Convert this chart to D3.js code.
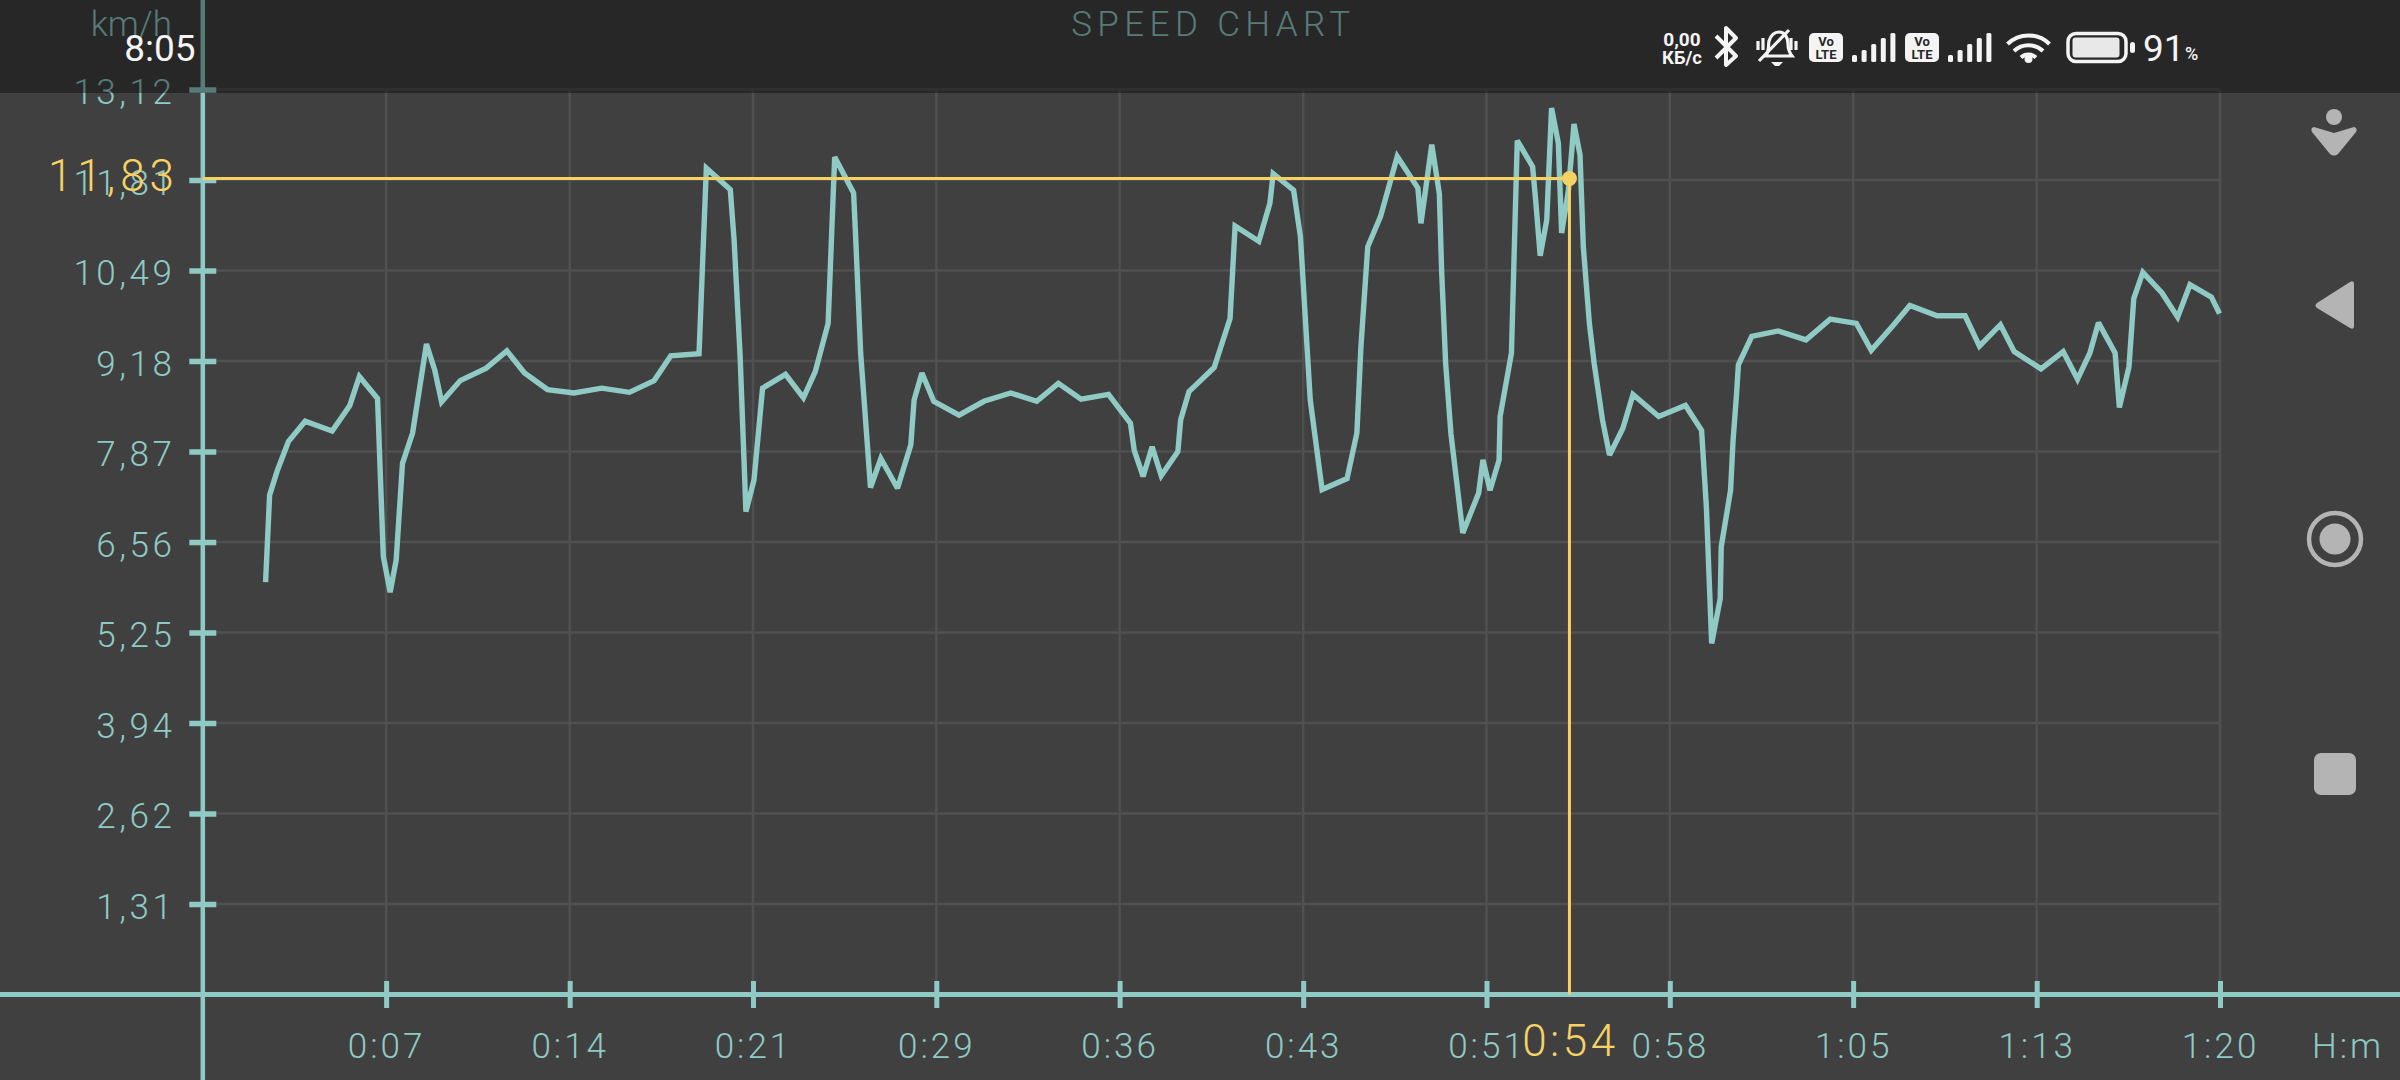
<!DOCTYPE html>
<html>
<head>
<meta charset="utf-8">
<script src="https://cdn.jsdelivr.net/npm/d3@7"></script>
<style>
html,body{margin:0;padding:0;background:#404040;overflow:hidden}
svg{display:block}
text{font-family:Roboto,"Liberation Sans",sans-serif}
</style>
</head>
<body>
<svg id="chart" width="2400" height="1080"></svg>
<script>
const chartTitle = "SPEED CHART";
const yUnit = "km/h";
const xUnit = "H:m";
const yTickValues = [1.312,2.624,3.936,5.248,6.56,7.872,9.184,10.496,11.808,13.12];
const yTickLabels = ["1,31","2,62","3,94","5,25","6,56","7,87","9,18","10,49","11,81","13,12"];
const xTickValues = [7.27,14.55,21.82,29.09,36.36,43.64,50.91,58.18,65.45,72.73,80];
const xTickLabels = ["0:07","0:14","0:21","0:29","0:36","0:43","0:51","0:58","1:05","1:13","1:20"];
const selectedMinute = 54.2;
const selectedSpeed = 11.83;
const selectedSpeedLabel = "11,83";
const selectedMinuteLabel = "0:54";

const speedMinutes = [2.49,2.65,2.96,3.40,4.06,5.13,5.83,6.21,6.93,7.16,7.43,7.67,7.92,8.32,8.87,9.20,9.47,10.21,11.24,12.06,12.76,13.67,14.72,15.82,16.92,17.90,18.56,19.68,19.97,20.92,21.07,21.31,21.54,21.86,22.20,23.11,23.82,24.29,24.80,25.06,25.81,25.89,26.09,26.48,26.89,27.55,28.08,28.21,28.52,28.99,29.99,30.98,32.04,33.07,33.93,34.83,35.92,36.79,36.94,37.29,37.65,38.01,38.67,38.78,39.11,40.11,40.74,40.94,41.88,42.32,42.45,43.26,43.53,43.92,44.39,45.38,45.77,45.93,46.20,46.71,47.37,48.19,48.31,48.74,49.04,49.13,49.29,49.50,49.97,50.60,50.77,51.05,51.41,51.45,51.90,52.13,52.74,52.87,53.04,53.30,53.49,53.76,53.89,54.16,54.38,54.62,54.75,54.99,55.18,55.51,55.79,56.32,56.72,57.74,58.80,59.44,59.63,59.84,60.18,60.22,60.59,60.69,60.82,60.90,61.43,62.48,63.58,64.54,65.58,66.17,67.06,67.70,68.78,69.89,70.46,71.29,71.84,72.90,73.78,74.35,74.84,75.18,75.84,76.01,76.39,76.58,76.94,77.70,78.32,78.81,79.66,79.98];
const speedKmh = [5.98,7.24,7.60,8.02,8.31,8.17,8.54,8.96,8.64,6.35,5.83,6.30,7.70,8.14,9.43,9.05,8.59,8.90,9.08,9.33,9.01,8.77,8.72,8.79,8.73,8.90,9.26,9.29,11.98,11.67,10.94,9.25,7.00,7.46,8.79,8.99,8.65,9.03,9.73,12.14,11.62,10.99,9.30,7.35,7.77,7.34,7.97,8.62,9.01,8.60,8.40,8.60,8.72,8.60,8.86,8.63,8.70,8.28,7.89,7.51,7.94,7.52,7.87,8.33,8.74,9.09,9.80,11.14,10.92,11.47,11.90,11.66,10.99,8.62,7.32,7.48,8.14,9.39,10.84,11.28,12.15,11.69,11.18,12.32,11.61,10.50,9.15,8.13,6.69,7.27,7.75,7.31,7.75,8.38,9.30,12.38,12.00,11.47,10.71,11.23,12.85,12.34,11.04,11.66,12.62,12.17,10.84,9.73,9.15,8.33,7.82,8.21,8.70,8.38,8.54,8.18,7.07,5.09,5.74,6.49,7.31,8.04,8.67,9.13,9.54,9.62,9.49,9.79,9.73,9.34,9.71,9.99,9.84,9.84,9.40,9.71,9.32,9.07,9.32,8.92,9.30,9.74,9.30,8.51,9.10,10.09,10.47,10.17,9.82,10.29,10.11,9.87];

const teal = "#8fcac4", gold = "#f6d265", grid = "#505050", bg = "#404040";
const svg = d3.select("#chart");
svg.append("rect").attr("width",2400).attr("height",1080).attr("fill",bg);

const x = d3.scaleLinear().domain([0,80]).range([202.8,2220]);
const y = d3.scaleLinear().domain([0,13.12]).range([994.5,89.5]);
const labelFont = "300 35px Roboto";

// grid
svg.append("g").selectAll("line").data(yTickValues).join("line")
  .attr("x1",x(0)).attr("x2",x(80)).attr("y1",d=>y(d)).attr("y2",d=>y(d))
  .attr("stroke",grid).attr("stroke-width",2.5);
svg.append("g").selectAll("line").data(xTickValues).join("line")
  .attr("x1",d=>x(d)).attr("x2",d=>x(d)).attr("y1",y(13.12)).attr("y2",y(0))
  .attr("stroke",grid).attr("stroke-width",2.5);

// axes
const yAxis = svg.append("g").attr("transform",`translate(${x(0)},0)`)
  .call(d3.axisLeft(y).tickValues(yTickValues).tickFormat((d,i)=>yTickLabels[i]));
const xAxis = svg.append("g").attr("transform",`translate(0,${y(0)})`)
  .call(d3.axisBottom(x).tickValues(xTickValues).tickFormat((d,i)=>xTickLabels[i]));
yAxis.select(".domain").remove(); xAxis.select(".domain").remove();
yAxis.selectAll(".tick line").attr("x1",-13.5).attr("x2",13.5).attr("stroke",teal).attr("stroke-width",5.5);
xAxis.selectAll(".tick line").attr("y1",-13.5).attr("y2",13.5).attr("stroke",teal).attr("stroke-width",5);
yAxis.selectAll(".tick text").attr("x",-27.5).attr("dy",null).attr("y",14).attr("text-anchor","end")
  .attr("fill",teal).style("font",labelFont).style("letter-spacing","3.5px");
xAxis.selectAll(".tick text").attr("x",0).attr("y",63).attr("dy",null).attr("text-anchor","middle")
  .attr("fill",teal).style("font",labelFont).style("letter-spacing","3px");
yAxis.attr("font-family",null).attr("font-size",null);
xAxis.attr("font-family",null).attr("font-size",null);
svg.append("line").attr("x1",x(0)).attr("x2",x(0)).attr("y1",0).attr("y2",1080).attr("stroke",teal).attr("stroke-width",4.5);
svg.append("line").attr("x1",0).attr("x2",2400).attr("y1",y(0)).attr("y2",y(0)).attr("stroke",teal).attr("stroke-width",5);

// unit labels and title
svg.append("text").attr("x",172).attr("y",36).attr("text-anchor","end").attr("fill",teal)
  .style("font",labelFont).style("letter-spacing","0px").text(yUnit);
svg.append("text").attr("x",2348).attr("y",1058).attr("text-anchor","middle").attr("fill",teal)
  .style("font",labelFont).style("letter-spacing","3px").text(xUnit);
svg.append("text").attr("x",x(40)+2).attr("y",36).attr("text-anchor","middle").attr("fill",teal)
  .style("font",labelFont).style("letter-spacing","5.4px").text(chartTitle);

// series
const points = speedMinutes.map((m,i)=>[m,speedKmh[i]]);
svg.append("path").datum(points)
  .attr("d",d3.line().x(d=>x(d[0])).y(d=>y(d[1])))
  .attr("fill","none").attr("stroke",teal).attr("stroke-width",5.4).attr("stroke-linejoin","miter").attr("stroke-miterlimit",2.5);

// selection
svg.append("line").attr("x1",x(0)).attr("x2",x(selectedMinute)).attr("y1",y(selectedSpeed)).attr("y2",y(selectedSpeed))
  .attr("stroke",gold).attr("stroke-width",3);
svg.append("line").attr("x1",x(selectedMinute)).attr("x2",x(selectedMinute)).attr("y1",y(selectedSpeed)).attr("y2",y(0))
  .attr("stroke",gold).attr("stroke-width",3);
svg.append("circle").attr("cx",x(selectedMinute)).attr("cy",y(selectedSpeed)).attr("r",7.5).attr("fill",gold);
svg.append("text").attr("x",179).attr("y",190.5).attr("text-anchor","end").attr("fill",gold)
  .style("font","300 44px Roboto").style("letter-spacing","5px").text(selectedSpeedLabel);
svg.append("text").attr("x",x(selectedMinute)+1).attr("y",1056).attr("text-anchor","middle").attr("fill",gold)
  .style("font","300 44px Roboto").style("letter-spacing","3.5px").text(selectedMinuteLabel);

// status bar (translucent over the chart)
svg.append("rect").attr("width",2400).attr("height",93).attr("fill","#000").attr("fill-opacity",0.39);
const white = "#f4f4f4";
const st = svg.append("g");
st.append("text").attr("x",195.5).attr("y",61).attr("text-anchor","end").attr("fill",white)
  .style("font","400 37px Roboto").text("8:05");
st.append("text").attr("x",1682).attr("y",46).attr("text-anchor","middle").attr("fill",white)
  .style("font","700 19px Roboto").text("0,00");
st.append("text").attr("x",1682).attr("y",64).attr("text-anchor","middle").attr("fill",white)
  .style("font","700 18px Roboto").attr("textLength",40).attr("lengthAdjust","spacingAndGlyphs").text("КБ/с");
st.append("path").attr("d","M1716,36 L1736,56 L1726,65 L1726,28 L1736,38 L1716,58")
  .attr("fill","none").attr("stroke",white).attr("stroke-width",4).attr("stroke-linejoin","round");
// muted bell
st.append("path").attr("d","M1765,56 C1770,52 1768,44 1769,41 C1771,35 1775,32 1779,32 C1785,32 1788,38 1788,44 C1788,49 1789,52 1792,56 Z")
  .attr("fill","none").attr("stroke",white).attr("stroke-width",3.2);
st.append("path").attr("d","M1758,41 V50 M1763,38 V50 M1791,38 V50 M1796,41 V50 M1789,30 L1759,61")
  .attr("fill","none").attr("stroke",white).attr("stroke-width",3.2);
st.append("path").attr("d","M1771,62 H1783 L1779,66 H1775 Z").attr("fill",white);
// volte + signal, twice
[[1809,1852],[1905,1948]].forEach(([bx,sx])=>{
  st.append("rect").attr("x",bx).attr("y",33).attr("width",34).attr("height",29).attr("rx",5).attr("fill",white);
  st.append("text").attr("x",bx+17).attr("y",46).attr("text-anchor","middle").attr("fill","#282828").style("font","700 13px Roboto").text("Vo");
  st.append("text").attr("x",bx+17).attr("y",59).attr("text-anchor","middle").attr("fill","#282828").style("font","700 13px Roboto").text("LTE");
  [55,50,44,38,33].forEach((top,i)=>{
    st.append("rect").attr("x",sx+i*9.6).attr("y",top).attr("width",5).attr("height",62-top).attr("rx",1.5).attr("fill",white);
  });
});
// wifi
st.append("path").attr("d","M2007.5,44 A30,30 0 0 1 2049.5,44 M2014,51 A21,21 0 0 1 2043,51 M2021,57.5 A11,11 0 0 1 2036,57.5")
  .attr("fill","none").attr("stroke",white).attr("stroke-width",4);
st.append("circle").attr("cx",2028.5).attr("cy",59).attr("r",4).attr("fill",white);
// battery
st.append("rect").attr("x",2068).attr("y",33.5).attr("width",58).attr("height",28).attr("rx",8).attr("fill","none").attr("stroke",white).attr("stroke-width",3.5);
st.append("rect").attr("x",2072.5).attr("y",37.5).attr("width",47).attr("height",20).attr("rx",3).attr("fill","#e8e8e8");
st.append("rect").attr("x",2130).attr("y",42).attr("width",5).attr("height",11).attr("rx",2.5).attr("fill",white);
st.append("text").attr("x",2143).attr("y",61).attr("fill",white).style("font","400 37px Roboto").text("91");
st.append("text").attr("x",2185).attr("y",60).attr("fill",white).style("font","500 18px Roboto").text("%");

// navigation buttons
const nav = "#b4b4b4";
const nv = svg.append("g");
nv.append("circle").attr("cx",2334).attr("cy",117).attr("r",8).attr("fill",nav);
nv.append("path").attr("d","M2314,127 L2334,133 L2354,127 Q2358,128 2356,132 L2338,154 Q2334,157 2330,154 L2312,132 Q2310,128 2314,127 Z").attr("fill",nav);
nv.append("path").attr("d","M2317,303 L2350,282 Q2354,280 2354,284 L2354,326 Q2354,330 2350,328 L2317,308 Q2314,305.5 2317,303 Z").attr("fill",nav);
nv.append("circle").attr("cx",2335).attr("cy",539).attr("r",26).attr("fill","none").attr("stroke",nav).attr("stroke-width",4.5);
nv.append("circle").attr("cx",2335).attr("cy",539).attr("r",15.5).attr("fill",nav);
nv.append("rect").attr("x",2314).attr("y",753).attr("width",42).attr("height",42).attr("rx",7).attr("fill",nav);
</script>
</body>
</html>
